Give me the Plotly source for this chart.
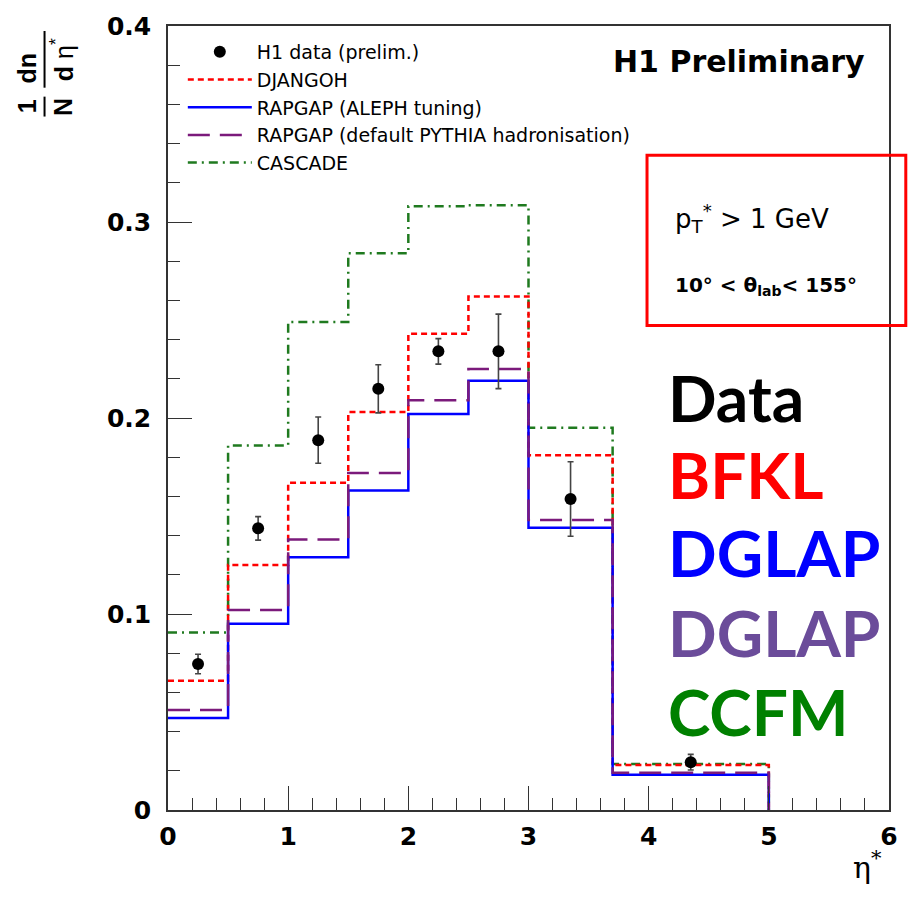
import plotly.graph_objects as go

# ---------------- data ----------------
edges = [0, 0.5, 1, 1.5, 2, 2.5, 3, 3.7, 5]
djangoh = [0.066, 0.125, 0.167, 0.203, 0.243, 0.262, 0.181, 0.023]
rapgap_aleph = [0.047, 0.095, 0.129, 0.163, 0.202, 0.219, 0.144, 0.018]
rapgap_default = [0.051, 0.102, 0.138, 0.172, 0.209, 0.225, 0.148, 0.019]
cascade = [0.0905, 0.186, 0.249, 0.284, 0.308, 0.3085, 0.195, 0.0235]

data_x = [0.25, 0.75, 1.25, 1.75, 2.25, 2.75, 3.35, 4.35]
data_y = [0.0745, 0.1437, 0.1887, 0.2149, 0.234, 0.234, 0.1587, 0.0244]
data_err = [0.005, 0.006, 0.0118, 0.0123, 0.0065, 0.019, 0.019, 0.004]

W, H = 910, 897
L, R, T, B = 168, 898, 22, 810


def px(x):
    return (x - L) / (R - L)


def py(y):
    return (B - y) / (B - T)


def step(vals):
    xs = list(edges) + [edges[-1]]
    ys = list(vals) + [vals[-1], 0]
    return xs, ys


fig = go.Figure()

series = [
    ("CASCADE", cascade, "#1f7a1f", "9px,5px,2px,5px", 5),
    ("DJANGOH", djangoh, "#ff0000", "6px,4px", 2),
    ("RAPGAP (ALEPH tuning)", rapgap_aleph, "#0000ff", "solid", 3),
    ("RAPGAP (default PYTHIA hadronisation)", rapgap_default, "#7b1a7b", "22px,10px", 4),
]
for name, vals, col, dash, rank in series:
    xs, ys = step(vals)
    fig.add_trace(go.Scatter(
        x=xs, y=ys, mode="lines", name=name, line_shape="hv",
        line=dict(color=col, width=2.5, dash=dash), legendrank=rank,
        hoverinfo="skip"))

fig.add_trace(go.Scatter(
    x=data_x, y=data_y, mode="markers", name="H1 data (prelim.)",
    marker=dict(color="black", size=12, symbol="circle"),
    error_y=dict(type="data", array=data_err, color="#444", thickness=1.6, width=3),
    legendrank=1))

sans = "DejaVu Sans, sans-serif"
helv = "Liberation Sans, Arial, sans-serif"
font_axis = dict(family=sans, size=25, color="black", weight="bold")

fig.update_xaxes(
    range=[0, 6], dtick=1, tick0=0, ticks="inside", ticklen=24, tickwidth=1.2,
    tickcolor="#333", showline=True, linecolor="#333", linewidth=1.5, mirror=True,
    showgrid=False, zeroline=False, tickfont=font_axis, ticklabelstandoff=3,
    minor=dict(dtick=0.2, ticks="inside", ticklen=12, tickcolor="#333", tickwidth=1.2, showgrid=False))
fig.update_yaxes(
    range=[0, 0.4], dtick=0.1, tick0=0, ticks="inside", ticklen=24, tickwidth=1.2,
    tickcolor="#333", showline=True, linecolor="#333", linewidth=1.5, mirror=True,
    showgrid=False, zeroline=False, tickfont=font_axis, ticklabelstandoff=10,
    minor=dict(dtick=0.02, ticks="inside", ticklen=12, tickcolor="#333", tickwidth=1.2, showgrid=False))

ann = []


def add_text(x, y, text, font, xanchor="left", yanchor="middle", angle=0):
    ann.append(dict(x=px(x), y=py(y), xref="paper", yref="paper", text=text, showarrow=False,
                    font=font, xanchor=xanchor, yanchor=yanchor, textangle=angle))


add_text(746, 58, "H1 Preliminary", dict(family=sans, size=30, color="black", weight="bold"),
         xanchor="center")
add_text(679, 215, "p<sub>T</sub><sup>*</sup> > 1 GeV", dict(family=sans, size=26, color="black"))
add_text(679, 283, "10° < θ<sub>lab</sub>< 155°",
         dict(family=sans, size=20, color="black", weight="bold"))

big = [("Data", "#000000", 395), ("BFKL", "#ff0000", 473), ("DGLAP", "#0000ff", 551),
       ("DGLAP", "#6b4c9a", 632), ("CCFM", "#008000", 711)]
for t, c, yy in big:
    add_text(672, yy, t,
             dict(family="Comic Sans MS, Lato, DejaVu Sans, sans-serif", size=64, color=c,
                  weight="bold"))

# y-axis title as a rotated fraction: (1/N) dn/dη*
ybold = dict(family=helv, size=25, color="black", weight="bold")
add_text(25, 103, "1", ybold, xanchor="center", angle=-90)
add_text(25, 64, "dn", ybold, xanchor="center", angle=-90)
add_text(61, 103, "N", ybold, xanchor="center", angle=-90)
add_text(61, 56, "<b>d</b> η<sup>*</sup>", dict(family=helv, size=25, color="black"),
         xanchor="center", angle=-90)
# x-axis title
add_text(893, 866, "η<sup>*</sup>", dict(family="DejaVu Serif, serif", size=30, color="black"),
         xanchor="right")

shapes = [
    dict(type="rect", xref="paper", yref="paper", x0=px(653), x1=px(915), y0=py(152), y1=py(323),
         line=dict(color="#ff0000", width=3), fillcolor="rgba(0,0,0,0)"),
    dict(type="line", xref="paper", yref="paper", x0=px(43), x1=px(43), y0=py(27), y1=py(84),
         line=dict(color="black", width=2)),
    dict(type="line", xref="paper", yref="paper", x0=px(43), x1=px(43), y0=py(93), y1=py(113),
         line=dict(color="black", width=2)),
]

fig.update_layout(
    width=W, height=H, margin=dict(l=L, r=W - R, t=T, b=H - B),
    paper_bgcolor="white", plot_bgcolor="white",
    annotations=ann, shapes=shapes,
    showlegend=True,
    legend=dict(x=px(183), y=py(29), xanchor="left", yanchor="top",
                bgcolor="rgba(255,255,255,0)", borderwidth=0,
                font=dict(family=sans, size=19, color="black"),
                itemwidth=64, tracegroupgap=0, traceorder="normal"),
)

fig.write_html("out.html")
